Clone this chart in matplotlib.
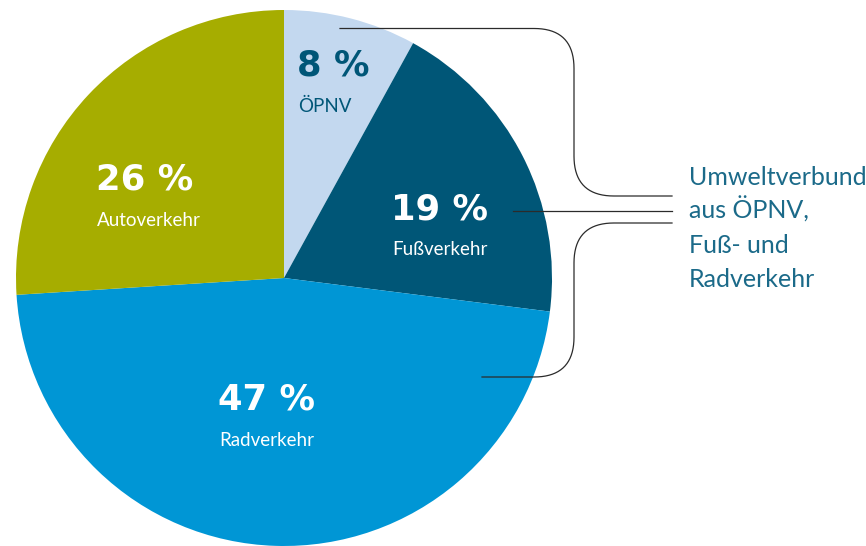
import matplotlib.pyplot as plt
import numpy as np

# data
labels = ["ÖPNV", "Fußverkehr", "Radverkehr", "Autoverkehr"]
shares = [8, 19, 47, 26]
colors = ["#c3d8ef", "#005677", "#0096d5", "#a6ad00"]
pct_colors = ["#005677", "white", "white", "white"]
label_pos = [(297, 76), (391, 219), (218, 410), (96, 190)]  # pixel pos of big number baseline
note_lines = ["Umweltverbund", "aus ÖPNV,", "Fuß- und", "Radverkehr"]

W, H = 866, 546
fig = plt.figure(figsize=(W / 100, H / 100), dpi=100)
ax = fig.add_axes([0, 0, 1, 1])

cx, cy, r = 284, 278, 268
ax.pie(shares, colors=colors, startangle=90, counterclock=False,
       center=(cx, H - cy), radius=r, wedgeprops=dict(linewidth=0),
       frame=True)
ax.set_xlim(0, W)
ax.set_ylim(0, H)
ax.set_aspect("equal")
ax.axis("off")

for lab, val, col, (px, py) in zip(labels, shares, pct_colors, label_pos):
    ax.text(px, H - py, f"{val} %", color=col, fontsize=25.5, fontweight="heavy",
            family="DejaVu Sans", ha="left", va="baseline")
    ax.text(px + 1, H - py - 36, lab, color=col, fontsize=13.5, family="Lato",
            ha="left", va="baseline")


def rounded(points, rad=40, n=20):
    # polyline with rounded corners, points in pixel coords
    pts = [np.array(p, float) for p in points]
    out = [pts[0]]
    for i in range(1, len(pts) - 1):
        a, b, c = pts[i - 1], pts[i], pts[i + 1]
        d1 = (b - a) / np.linalg.norm(b - a)
        d2 = (c - b) / np.linalg.norm(c - b)
        p1 = b - d1 * rad
        p2 = b + d2 * rad
        t = np.linspace(0, 1, n)[:, None]
        curve = (1 - t) ** 2 * p1 + 2 * (1 - t) * t * b + t ** 2 * p2
        out.extend(curve)
    out.append(pts[-1])
    out = np.array(out)
    return out[:, 0], H - out[:, 1]


lc = "#2b2b2b"
x, y = rounded([(340, 28.5), (574, 28.5), (574, 196), (672, 196)])
ax.plot(x, y, color=lc, lw=0.9)
x, y = rounded([(672, 223), (574, 223), (574, 377), (482, 377)])
ax.plot(x, y, color=lc, lw=0.9)
ax.plot([513, 672], [H - 211, H - 211], color=lc, lw=0.9)

for i, line in enumerate(note_lines):
    ax.text(689, H - (185 + 34 * i), line, color="#1b6a89", fontsize=18,
            family="Lato", ha="left", va="baseline")

fig.savefig("out.png", dpi=100)
